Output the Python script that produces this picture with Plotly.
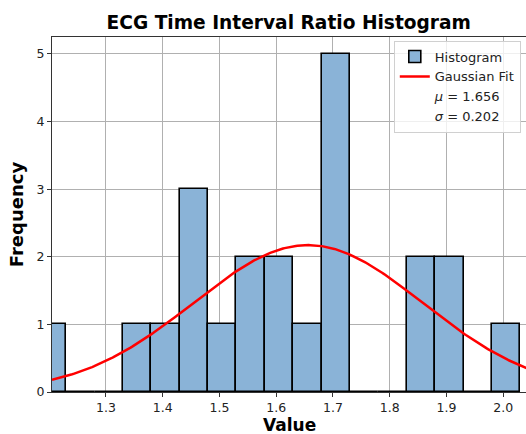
import numpy as np
import plotly.graph_objects as go

bin_left = [1.18, 1.23, 1.28, 1.33, 1.38, 1.43, 1.48, 1.53, 1.58, 1.63, 1.68, 1.73, 1.78, 1.83, 1.88, 1.93, 1.98]
counts = [1, 0, 0, 1, 1, 3, 1, 2, 2, 1, 5, 0, 0, 2, 2, 0, 1]
bin_width = 0.05
mu = 1.656
sigma = 0.202
x_ticks = [1.3, 1.4, 1.5, 1.6, 1.7, 1.8, 1.9, 2.0]
y_ticks = [0, 1, 2, 3, 4, 5]

centers = [b + bin_width / 2 for b in bin_left]
n_total = sum(counts)
xs = np.linspace(1.205, 2.05, 300)
ys = n_total * bin_width * np.exp(-0.5 * ((xs - mu) / sigma) ** 2) / (sigma * np.sqrt(2 * np.pi))

fig = go.Figure()
fig.add_trace(go.Bar(
    x=centers, y=counts, width=bin_width,
    marker=dict(color="#8ab3d7", line=dict(color="black", width=1.6)),
    name="Histogram",
))
fig.add_trace(go.Scatter(
    x=xs, y=ys, mode="lines", line=dict(color="red", width=2.5), name="Gaussian Fit",
))
for lab in ["<i>μ</i> = %.3f" % mu, "<i>σ</i> = %.3f" % sigma]:
    fig.add_trace(go.Scatter(
        x=[None], y=[None], mode="lines", line=dict(color="rgba(0,0,0,0)"), name=lab,
    ))

axis_common = dict(
    showline=True, linecolor="#333", linewidth=1, mirror=True,
    showgrid=True, gridcolor="#b0b0b0", gridwidth=1,
    ticks="outside", ticklen=4, tickcolor="#333",
    tickfont=dict(family="DejaVu Sans", size=12.5, color="#222"),
    zeroline=False,
)

fig.update_layout(
    width=526, height=434,
    margin=dict(l=52, r=0, t=37, b=42),
    plot_bgcolor="white", paper_bgcolor="white",
    bargap=0,
    title=dict(text="<b>ECG Time Interval Ratio Histogram</b>", x=0.549, xanchor="center",
               y=1 - 22 / 434, yanchor="middle",
               font=dict(family="DejaVu Sans", size=18.6, color="black")),
    xaxis=dict(range=[1.205, 2.04], tickvals=x_ticks, ticktext=["%.1f" % v for v in x_ticks],
               **axis_common),
    yaxis=dict(range=[0, 5.25], tickvals=y_ticks,
               title=dict(text="<b>Frequency</b>", font=dict(family="DejaVu Sans", size=18, color="black"), standoff=8),
               **axis_common),
    legend=dict(x=0.989, y=0.99, xanchor="right", yanchor="top",
                bgcolor="rgba(255,255,255,0.8)", bordercolor="#d0d0d0", borderwidth=1,
                font=dict(family="DejaVu Sans", size=13, color="#222"),
                tracegroupgap=0, itemwidth=30),
    showlegend=True,
)
fig.add_annotation(
    text="<b>Value</b>", xref="paper", yref="paper", x=0.5, y=-(425 - 392) / 355,
    xanchor="center", yanchor="middle", showarrow=False,
    font=dict(family="DejaVu Sans", size=17, color="black"),
)

fig.write_html(
    "out.html",
    config={"displayModeBar": False},
    post_script="document.body.style.margin='0';document.body.style.overflow='hidden';",
)
